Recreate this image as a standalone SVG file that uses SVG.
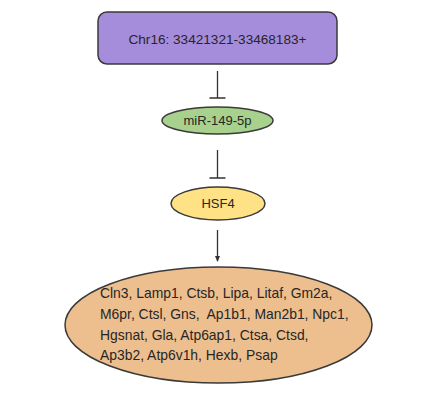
<svg xmlns="http://www.w3.org/2000/svg" width="431" height="413" viewBox="0 0 431 413">
<defs>
<style>
.t{font-family:"Liberation Sans",Arial,sans-serif;fill:#262626;}
.n{stroke:#3a3a3a;stroke-width:1.5;}
.c{stroke:#333;stroke-width:1.3;fill:none;}
</style>
<marker id="ah" markerWidth="6" markerHeight="6" refX="5" refY="3" orient="auto" markerUnits="userSpaceOnUse">
<path d="M0,0.5 L6,3 L0,5.5 Z" fill="#333"/>
</marker>
</defs>
<rect width="431" height="413" fill="#fff"/>
<g id="connectors">
<path class="c" d="M217.5,71 V98 M209.5,98 H225.5"/>
<path class="c" d="M217.5,150 V178 M209.5,178 H225.5"/>
<path class="c" d="M217.5,230 V261" marker-end="url(#ah)"/>
</g>
<g id="chr16">
<rect class="n" x="98" y="12" width="239" height="52" rx="9" fill="#a68ddc"/>
<text class="t" x="217.5" y="43.5" font-size="13.6" text-anchor="middle">Chr16: 33421321-33468183+</text>
</g>
<g id="mir">
<ellipse class="n" cx="217.5" cy="120.5" rx="55.5" ry="13.5" fill="#a8d18d"/>
<text class="t" x="217.5" y="125" font-size="13" text-anchor="middle">miR-149-5p</text>
</g>
<g id="hsf4">
<ellipse class="n" cx="218" cy="203.5" rx="47" ry="16.5" fill="#ffe285"/>
<text class="t" x="218" y="208" font-size="13" text-anchor="middle">HSF4</text>
</g>
<g id="targets">
<ellipse class="n" cx="218.5" cy="325" rx="153.5" ry="58" fill="#edbf8e"/>
<text class="t" font-size="13.9" xml:space="preserve"><tspan x="100" y="298">Cln3, Lamp1, Ctsb, Lipa, Litaf, Gm2a,</tspan><tspan x="100" y="319">M6pr, Ctsl, Gns,  Ap1b1, Man2b1, Npc1,</tspan><tspan x="100" y="340">Hgsnat, Gla, Atp6ap1, Ctsa, Ctsd,</tspan><tspan x="100" y="360">Ap3b2, Atp6v1h, Hexb, Psap</tspan></text>
</g>
</svg>
